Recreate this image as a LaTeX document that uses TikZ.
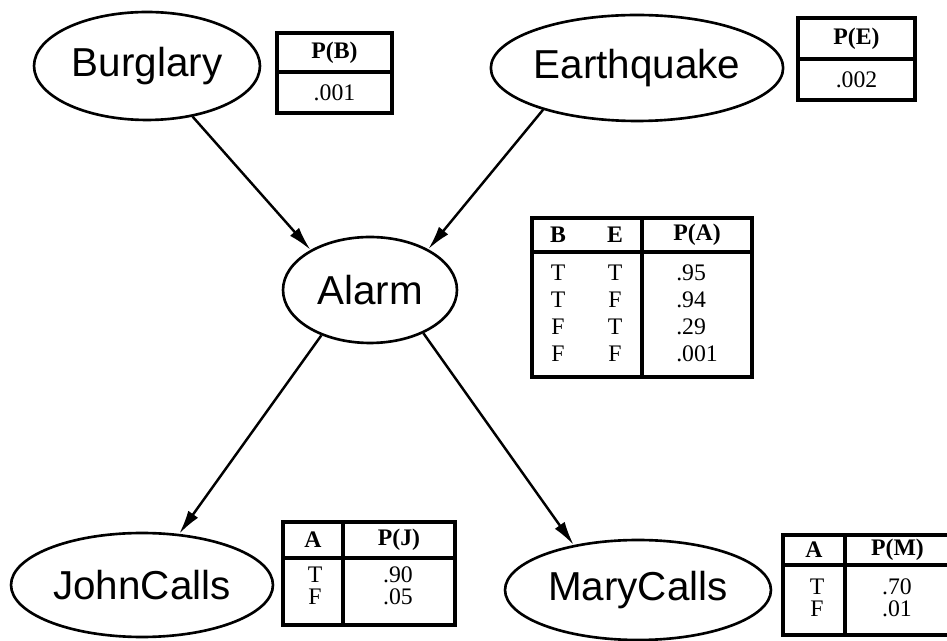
\documentclass[tikz,border=0pt]{standalone}
\usepackage{fontspec}
\setmainfont{Liberation Serif}
\setsansfont{Liberation Sans}
\usetikzlibrary{shapes.geometric, arrows.meta}

\begin{document}
\begin{tikzpicture}[
    x=0.02cm, y=-0.02cm,
    var/.style={ellipse, draw, line width=1.5pt, inner sep=0pt, font=\sffamily\fontsize{23}{27}\selectfont},
    cell/.style={rectangle, draw, line width=2pt, inner sep=0pt, font=\fontsize{13.5}{15}\selectfont},
    entry/.style={inner sep=0pt, align=center, font=\fontsize{13.5}{15}\selectfont},
    line/.style={draw, -{Latex[length=4.8mm, width=2.4mm]}, line width=1.4pt}
]
    \useasboundingbox (0,0) rectangle (947,641);

    % network nodes
    \node [var, minimum width=4.52cm, minimum height=2.16cm] (burglary) at (147,66) {Burglary};
    \node [var, minimum width=5.8cm, minimum height=2.12cm] (earthquake) at (637,68) {Earthquake};
    \node [var, minimum width=3.48cm, minimum height=2.12cm] (alarm) at (370,290) {Alarm};
    \node [var, minimum width=5.24cm, minimum height=2.08cm] (johncalls) at (142,585) {JohnCalls};
    \node [var, minimum width=5.32cm, minimum height=2.0cm] (marycalls) at (638,590) {MaryCalls};

    % table P(B)
    \node [cell, minimum width=2.3cm, minimum height=0.78cm] (pb_head) at (334.5,52.5) {\textbf{P(B)}};
    \node [cell, minimum width=2.3cm, minimum height=0.82cm] (pb_val) at (334.5,92.5) {.001};

    % table P(E)
    \node [cell, minimum width=2.34cm, minimum height=0.82cm] (pe_head) at (856.5,38.5) {\textbf{P(E)}};
    \node [cell, minimum width=2.34cm, minimum height=0.82cm] (pe_val) at (856.5,79.5) {.002};

    % table P(A)
    \node [cell, minimum width=2.2cm, minimum height=0.68cm] (pa_head_be) at (587,235) {};
    \node [cell, minimum width=2.2cm, minimum height=0.68cm] (pa_head) at (697,235) {\textbf{P(A)}};
    \node [cell, minimum width=2.2cm, minimum height=2.5cm] (pa_body_be) at (587,314.5) {};
    \node [cell, minimum width=2.2cm, minimum height=2.5cm] (pa_body) at (697,314.5) {};
    \node [entry] (pa_b) at (558,235) {\textbf{B}};
    \node [entry] (pa_e) at (615,235) {\textbf{E}};
    \node [entry, font=\fontsize{13.5}{15.3}\selectfont] (pa_bcol) at (558,313.5) {T\\T\\F\\F};
    \node [entry, font=\fontsize{13.5}{15.3}\selectfont] (pa_ecol) at (615,313.5) {T\\F\\T\\F};
    \node [entry, align=left, font=\fontsize{13.5}{15.3}\selectfont] (pa_vals) at (697,313.5) {.95\\.94\\.29\\.001};

    % table P(J)
    \node [cell, minimum width=1.2cm, minimum height=0.72cm] (pj_head_a) at (313,540) {\textbf{A}};
    \node [cell, minimum width=2.24cm, minimum height=0.72cm] (pj_head) at (399,540) {\textbf{P(J)}};
    \node [cell, minimum width=1.2cm, minimum height=1.34cm] (pj_body_a) at (313,591.5) {};
    \node [cell, minimum width=2.24cm, minimum height=1.34cm] (pj_body) at (399,591.5) {};
    \node [entry, font=\fontsize{13.5}{12.6}\selectfont] (pj_acol) at (315,586) {T\\F};
    \node [entry, font=\fontsize{13.5}{12.6}\selectfont] (pj_vals) at (398,586) {.90\\.05};

    % table P(M)
    \node [cell, minimum width=1.24cm, minimum height=0.6cm] (pm_head_a) at (814,550) {\textbf{A}};
    \node [cell, minimum width=2.1cm, minimum height=0.6cm] (pm_head) at (897.5,550) {\textbf{P(M)}};
    \node [cell, minimum width=1.24cm, minimum height=1.4cm] (pm_body_a) at (814,600) {};
    \node [cell, minimum width=2.1cm, minimum height=1.4cm] (pm_body) at (897.5,600) {};
    \node [entry, font=\fontsize{13.5}{12.6}\selectfont] (pm_acol) at (817,598) {T\\F};
    \node [entry, font=\fontsize{13.5}{12.6}\selectfont] (pm_vals) at (897,598) {.70\\.01};

    % arcs
    \draw [line] (burglary.-48) -- (alarm.146);
    \draw [line] (earthquake.204) -- (alarm.35);
    \draw [line] (alarm.223) -- (johncalls.54);
    \draw [line] (alarm.321) -- (marycalls.145);
\end{tikzpicture}
\end{document}
